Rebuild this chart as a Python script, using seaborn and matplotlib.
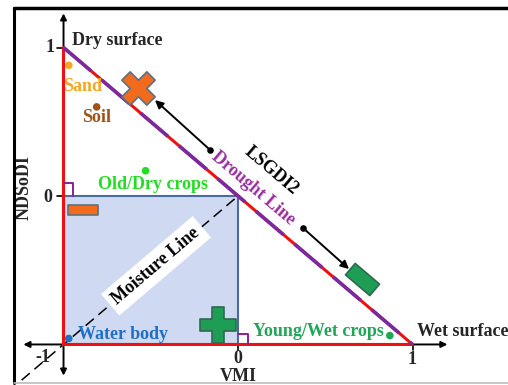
import numpy as np
import pandas as pd
import matplotlib
matplotlib.use("Agg")
import matplotlib.pyplot as plt
import seaborn as sns
from matplotlib.markers import MarkerStyle
from matplotlib.transforms import Affine2D
from matplotlib.patches import Rectangle
from matplotlib.lines import Line2D

# land cover points (VMI, NDSoDI)
cover_names = ["Sand", "Soil", "Old/Dry crops", "Young/Wet crops", "Water body"]
cover_vmi = [-0.97, -0.81, -0.53, 0.87, -0.97]
cover_ndsodi = [0.88, 0.60, 0.17, -0.94, -0.96]
cover_colors = ["#f5a623", "#9c5418", "#22dd22", "#1fa657", "#1f6fc4"]
label_x = [-0.89, -0.81, -0.49, 0.46, -0.66]
label_y = [0.74, 0.53, 0.08, -0.915, -0.935]

# triangle (feature space) and wet square
triangle_vmi = [-1, -1, 1, -1]
triangle_ndsodi = [-1, 1, -1, -1]
square_vmi = [-1, 0, 0]
square_ndsodi = [0, 0, -1]
moisture_vmi = [-1.24, 0]
moisture_ndsodi = [-1.24, 0]

df = pd.DataFrame({"name": cover_names, "VMI": cover_vmi, "NDSoDI": cover_ndsodi})

sns.set_style("white")
plt.rcParams["font.family"] = ["Liberation Serif", "DejaVu Serif"]
plt.rcParams["font.weight"] = "bold"
FS = 13

fig = plt.figure(figsize=(5.08, 3.85), dpi=100)
ax = fig.add_axes([0, 0, 1, 1])
ax.set_xlim(-1.364, 1.547)
ax.set_ylim(-1.273, 1.320)
ax.axis("off")

# frame
fig.add_artist(Line2D([13.5 / 508, 13.5 / 508], [0.005, 1 - 8 / 385], transform=fig.transFigure, color="k", lw=2.2))
fig.add_artist(Line2D([13.5 / 508, 1.0], [1 - 8 / 385, 1 - 8 / 385], transform=fig.transFigure, color="k", lw=2.5))
fig.add_artist(Line2D([13.5 / 508, 1.0], [0.006, 0.006], transform=fig.transFigure, color="#bbbbbb", lw=1.2))

# wet square
ax.add_patch(Rectangle((-1, -1), 1, 1, facecolor="#cfdaf2", edgecolor="none", zorder=1))
ax.plot(square_vmi, square_ndsodi, color="#4a6aa0", lw=1.5, zorder=2)

# axes arrows
ax.annotate("", xy=(-1, 1.23), xytext=(-1, -1.21),
            arrowprops=dict(arrowstyle="<|-|>", color="k", lw=1.4, mutation_scale=9, shrinkA=0, shrinkB=0), zorder=3)
ax.annotate("", xy=(1.2, -1), xytext=(-1.23, -1),
            arrowprops=dict(arrowstyle="<|-|>", color="k", lw=1.4, mutation_scale=9, shrinkA=0, shrinkB=0), zorder=3)

# moisture line
sns.lineplot(x=moisture_vmi, y=moisture_ndsodi, ax=ax, color="k", lw=1.1, linestyle=(0, (7, 4)), sort=False, zorder=3)

# triangle
sns.lineplot(x=triangle_vmi, y=triangle_ndsodi, ax=ax, color="#ee1111", lw=2.2, sort=False, estimator=None, zorder=4)
ax.plot([-1, 1], [1, -1], color="#7a2a9e", lw=2.6, linestyle=(0, (10, 4)), zorder=5)

# right angle marks
ax.plot([-1, -0.945, -0.945], [0.09, 0.09, 0], color="#8a1f9a", lw=1.4, zorder=5)
ax.plot([0, 0.058, 0.058], [-0.93, -0.93, -1], color="#8a1f9a", lw=1.4, zorder=5)

# ticks
ax.plot([-1.04, -1], [1, 1], color="k", lw=1.2)
ax.plot([-1.04, -1], [0, 0], color="k", lw=1.2)
ax.plot([1, 1], [-1, -1.035], color="k", lw=1.2)
ax.plot([0, 0], [-1, -1.035], color="k", lw=1.2)
tick_kw = dict(fontsize=FS, fontweight="bold", ha="center", va="center")
ax.text(-1.077, 0.997, "1", **tick_kw)
ax.text(-1.089, -0.007, "0", **tick_kw)
ax.text(-1.12, -1.085, "-1", **tick_kw)
ax.text(0, -1.095, "0", **tick_kw)
ax.text(0.997, -1.10, "1", **tick_kw)
ax.text(0, -1.215, "VMI", **tick_kw)
ax.text(-1.225, 0.06, "NDSoDI", rotation=90, **tick_kw)

# land cover points
sns.scatterplot(data=df, x="VMI", y="NDSoDI", hue="name", palette=cover_colors,
                s=30, edgecolor="none", legend=False, ax=ax, zorder=6)
for name, lx, ly, c in zip(cover_names, label_x, label_y, cover_colors):
    ax.text(lx, ly, name, color=c, fontsize=FS, fontweight="bold", ha="center", va="center", zorder=7)

ax.text(-0.69, 1.05, "Dry surface", fontsize=FS, fontweight="bold", ha="center", va="center")
ax.text(1.026, -0.915, "Wet surface", fontsize=FS, fontweight="bold", ha="left", va="center")

ang = np.degrees(np.arctan(148.5 / 174.5))
ax.text(0.086, 0.054, "Drought Line", color="#9a2f9e", fontsize=FS, fontweight="bold",
        rotation=-ang, rotation_mode="anchor", ha="center", va="center")
ax.text(0.19, 0.168, "LSGDI2", color="k", fontsize=FS, fontweight="bold",
        rotation=-ang, rotation_mode="anchor", ha="center", va="center")
ax.text(-0.47, -0.47, "Moisture Line", color="k", fontsize=FS, fontweight="bold",
        rotation=ang, rotation_mode="anchor", ha="center", va="center", zorder=6,
        bbox=dict(facecolor="white", edgecolor="none", pad=4))

# drought / wetting symbols
cross = MarkerStyle("X")
plus = MarkerStyle("P")
bar = MarkerStyle("s", transform=Affine2D().scale(1.0, 0.35))
tilted = MarkerStyle("s", transform=Affine2D().scale(1.0, 0.47).rotate_deg(-ang))
ax.scatter([-0.573], [0.727], marker=cross, s=24 ** 2, color="#f26b1d", edgecolor="#5f6f82", lw=1.2, zorder=8)
ax.scatter([-0.89], [-0.094], marker=bar, s=21 ** 2, color="#f26b1d", edgecolor="#5f6f82", lw=1.2, zorder=8)
ax.scatter([-0.115], [-0.869], marker=plus, s=26 ** 2, color="#1e9e55", edgecolor="#2d6a50", lw=1.2, zorder=8)
ax.scatter([0.711], [-0.559], marker=tilted, s=23 ** 2, color="#1e9e55", edgecolor="#2d6a50", lw=1.2, zorder=8)

# shift arrows
ax.annotate("", xy=(-0.476, 0.646), xytext=(-0.16, 0.31),
            arrowprops=dict(arrowstyle="-|>", color="k", lw=1.4, mutation_scale=12, shrinkA=0, shrinkB=0))
ax.annotate("", xy=(0.636, -0.492), xytext=(0.372, -0.215),
            arrowprops=dict(arrowstyle="-|>", color="k", lw=1.4, mutation_scale=12, shrinkA=0, shrinkB=0))
ax.scatter([-0.16, 0.372], [0.31, -0.215], s=14, color="k", zorder=9)

fig.savefig("out.png", dpi=100)
